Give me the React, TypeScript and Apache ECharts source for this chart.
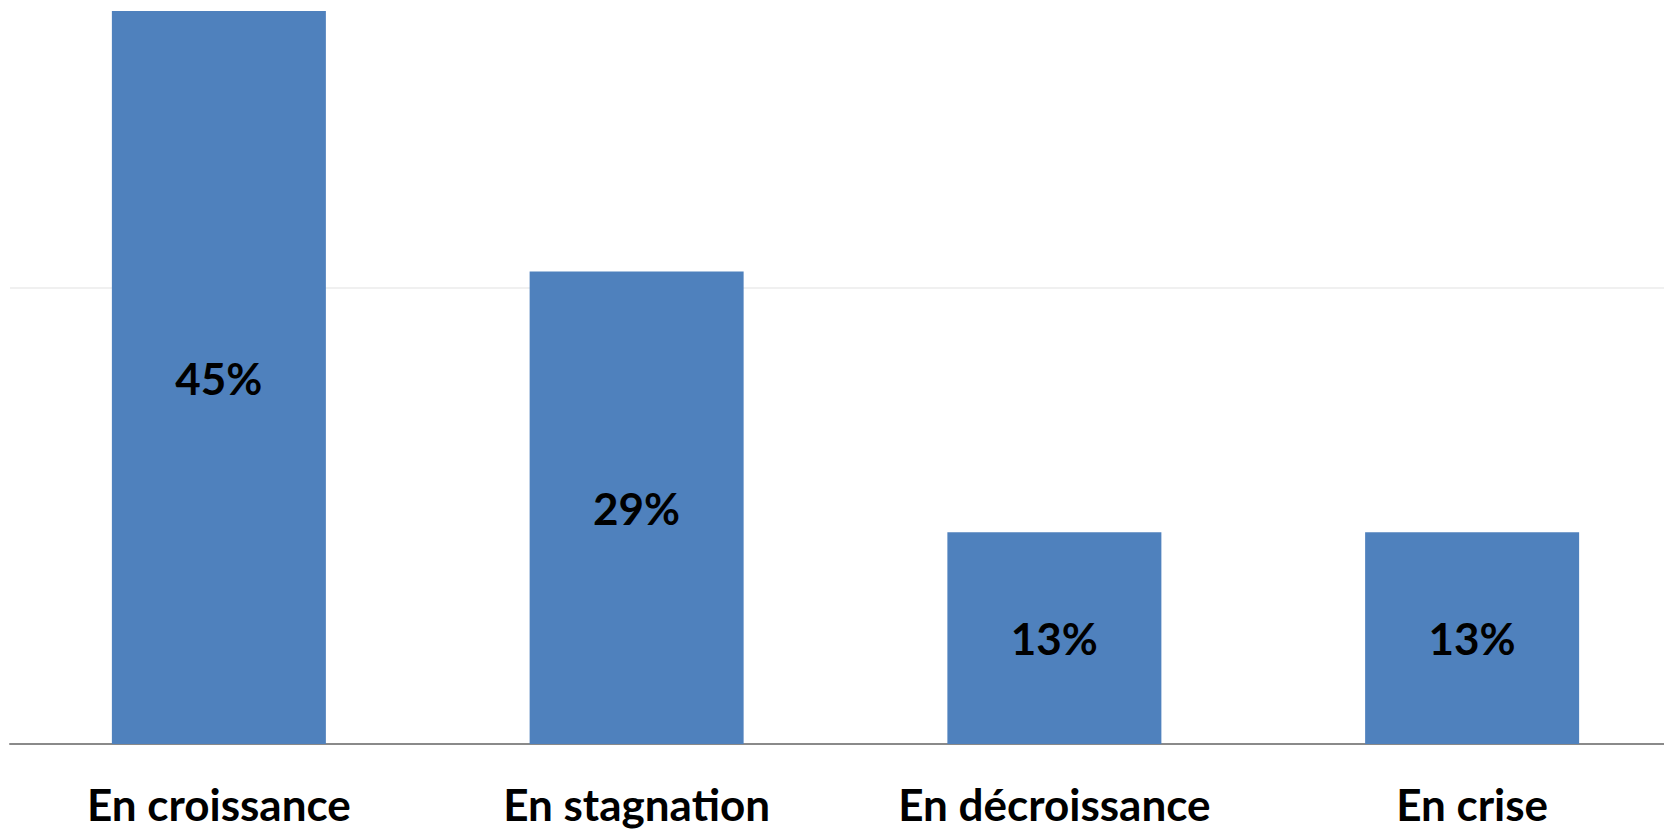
import React, { useEffect, useRef } from "react";
import * as echarts from "echarts";

const categories = ["En croissance", "En stagnation", "En décroissance", "En crise"];
const values = [45, 29, 13, 13];
const axisMax = 45;
const gridStep = 28;

export default function App() {
  const ref = useRef<HTMLDivElement>(null);
  useEffect(() => {
    if (!ref.current) return;
    const chart = echarts.init(ref.current, null, { renderer: "svg" });
    chart.setOption({
      animation: false,
      backgroundColor: "#ffffff",
      grid: { left: 10, top: 11, right: 19, bottom: 86, containLabel: false },
      xAxis: {
        type: "category",
        data: categories,
        axisLine: { show: true, lineStyle: { color: "#8a8a8a", width: 2 } },
        axisTick: { show: false },
        axisLabel: {
          interval: 0,
          margin: 38,
          color: "#000000",
          fontFamily: "Lato",
          fontWeight: "bold",
          fontSize: 44,
        },
      },
      yAxis: {
        type: "value",
        min: 0,
        max: axisMax,
        interval: gridStep,
        axisLine: { show: false },
        axisTick: { show: false },
        axisLabel: { show: false },
        splitLine: {
          show: true,
          showMaxLine: false,
          lineStyle: { color: "#f0f0f0", width: 2 },
        },
      },
      series: [
        {
          type: "bar",
          data: values,
          barWidth: 214,
          itemStyle: { color: "#4f81bd" },
          label: {
            show: true,
            position: "inside",
            formatter: "{c}%",
            color: "#000000",
            fontFamily: "Lato",
            fontWeight: "bold",
            fontSize: 44,
          },
        },
      ],
    });
    return () => chart.dispose();
  }, []);
  return (
    <div style={{ position: "fixed", left: 0, top: 0, width: 1664, height: 830, overflow: "hidden", background: "#fff" }}>
      <div ref={ref} style={{ position: "absolute", left: 0, top: 0, width: 1700, height: 830 }} />
    </div>
  );
}
